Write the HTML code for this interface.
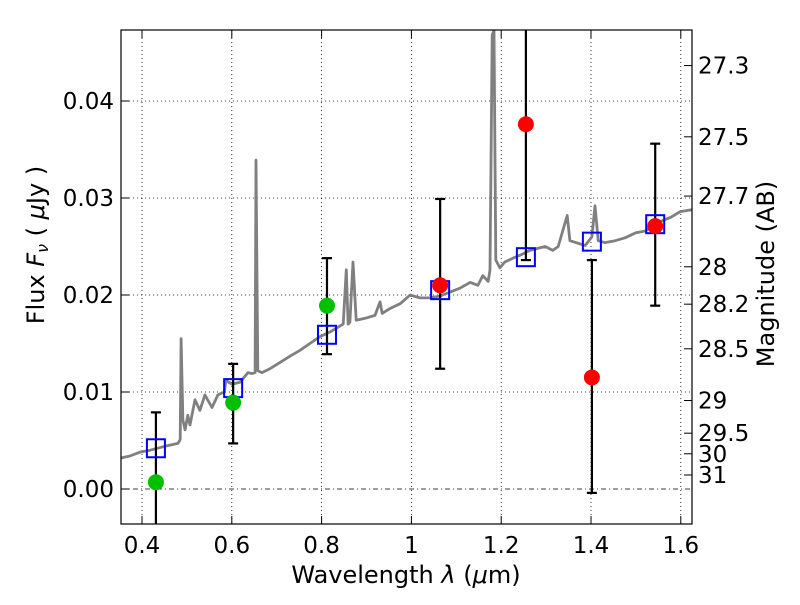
<!DOCTYPE html>
<html><head><meta charset="utf-8"><style>
body{margin:0;background:#fff;font-family:"Liberation Sans","DejaVu Sans",sans-serif}
svg text{font-family:"DejaVu Sans","Liberation Sans",sans-serif}
</style></head><body>
<svg id="c" width="800" height="600" xmlns="http://www.w3.org/2000/svg">
<rect width="800" height="600" fill="#fff"/>
<defs><clipPath id="clip"><rect x="121" y="30" width="571" height="494"/></clipPath></defs>
<g id="grid"></g>
<line x1="121" x2="692" y1="489" y2="489" stroke="#000" stroke-width="0.8" stroke-dasharray="5,3,1,3"/>
<g id="plot" clip-path="url(#clip)"></g>
<rect x="121" y="30" width="571" height="494" fill="none" stroke="#000" stroke-width="1.2"/>
<g id="axes"></g>
<text x="406" y="583" font-size="24" text-anchor="middle">Wavelength  <tspan font-style="italic">λ</tspan> (<tspan font-style="italic">μ</tspan>m)</text>
<text transform="translate(44,245) rotate(-90)" font-size="24" text-anchor="middle">Flux  <tspan font-style="italic">F</tspan><tspan font-style="italic" font-size="16" dy="4">ν</tspan><tspan dy="-4">  (  </tspan><tspan font-style="italic">μ</tspan>Jy )</text>
<text transform="translate(774,274) rotate(-90)" font-size="24" text-anchor="middle">Magnitude (AB)</text>
</svg>
<script>
const specWl=[0.353,0.373,0.396,0.418,0.451,0.480,0.485,0.487,0.491,0.496,0.502,0.507,0.518,0.529,0.540,0.556,0.569,0.583,0.587,0.600,0.618,0.636,0.645,0.652,0.654,0.658,0.667,0.685,0.730,0.752,0.774,0.796,0.819,0.848,0.855,0.859,0.863,0.870,0.877,0.897,0.919,0.930,0.935,0.952,0.975,0.997,1.019,1.041,1.064,1.086,1.108,1.131,1.148,1.159,1.171,1.175,1.180,1.184,1.188,1.197,1.208,1.231,1.242,1.264,1.298,1.315,1.327,1.347,1.353,1.387,1.402,1.409,1.416,1.431,1.454,1.476,1.499,1.521,1.555,1.577,1.599,1.626];
const specFlux=[0.0032,0.0034,0.0038,0.0040,0.0044,0.0047,0.0051,0.0155,0.0071,0.0061,0.0076,0.0066,0.0092,0.0081,0.0097,0.0084,0.0097,0.0100,0.0112,0.0108,0.0110,0.0120,0.0119,0.0120,0.0339,0.0122,0.0120,0.0124,0.0137,0.0143,0.0150,0.0157,0.0162,0.0170,0.0226,0.0170,0.0172,0.0234,0.0174,0.0176,0.0179,0.0193,0.0181,0.0186,0.0191,0.0200,0.0197,0.0197,0.0199,0.0203,0.0207,0.0213,0.0210,0.0220,0.0214,0.0226,0.0468,0.0473,0.0236,0.0228,0.0234,0.0239,0.0241,0.0246,0.0250,0.0246,0.0250,0.0282,0.0256,0.0251,0.0260,0.0292,0.0256,0.0254,0.0256,0.0259,0.0264,0.0266,0.0276,0.0280,0.0286,0.0288];
const bandWl=[0.431,0.603,0.812,1.064,1.255,1.402,1.543];
const modelFlux=[0.0042,0.0104,0.0159,0.0205,0.0239,0.0255,0.0273];
const obsFlux=[0.0007,0.0089,0.0189,0.0210,0.0376,0.0115,0.0271];
const errLow=[-0.008,0.0047,0.0139,0.0124,0.0236,-0.0004,0.0189];
const errHigh=[0.0079,0.0129,0.0238,0.0299,0.055,0.0236,0.0356];
const obsColor=['#00c000','#00c000','#00c000','#ff0000','#ff0000','#ff0000','#ff0000'];
const xTicks=[0.4,0.6,0.8,1.0,1.2,1.4,1.6];
const xTickLabels=['0.4','0.6','0.8','1','1.2','1.4','1.6'];
const yTicks=[0,0.01,0.02,0.03,0.04];
const yTickLabels=['0.00','0.01','0.02','0.03','0.04'];
const magTicks=[27.3,27.5,27.7,28,28.2,28.5,29,29.5,30,31];

const X=w=>142+(w-0.4)*449;
const Y=f=>489-f*9700;
const NS='http://www.w3.org/2000/svg';
function mk(parent,tag,attrs,txt){const e=document.createElementNS(NS,tag);for(const k in attrs)e.setAttribute(k,attrs[k]);if(txt!==undefined)e.textContent=txt;parent.appendChild(e);return e;}
const grid=document.getElementById('grid'),plot=document.getElementById('plot'),axes=document.getElementById('axes');
xTicks.forEach((t,i)=>{const x=X(t);
 let g=mk(grid,'line',{x1:x,x2:x,y1:30,y2:524,stroke:'#000','stroke-width':0.8,'stroke-dasharray':'1,3'});
 
 
 mk(axes,'line',{x1:x,x2:x,y1:524,y2:516,stroke:'#000'});
 mk(axes,'line',{x1:x,x2:x,y1:30,y2:38,stroke:'#000'});
 let l=mk(axes,'text',{x:x,y:553,'font-size':23,'text-anchor':'middle'},xTickLabels[i]);
 
 
});
yTicks.forEach((t,i)=>{const y=Y(t);
 if(t!==0){let g=mk(grid,'line',{x1:121,x2:692,y1:y,y2:y,stroke:'#000','stroke-width':0.8,'stroke-dasharray':'1,3'});
 
 }
 mk(axes,'line',{x1:121,x2:129,y1:y,y2:y,stroke:'#000'});
 let l=mk(axes,'text',{x:114,y:y+8,'font-size':23,'text-anchor':'end'},yTickLabels[i]);
 
 
});
magTicks.forEach(m=>{const y=Y(Math.pow(10,(23.9-m)/2.5));
 mk(axes,'line',{x1:684,x2:692,y1:y,y2:y,stroke:'#000'});
 let l=mk(axes,'text',{x:698,y:y+8,'font-size':23},String(m));
 
 
});
let d=specWl.map((w,i)=>(i?'L':'M')+X(w).toFixed(1)+','+Y(specFlux[i]).toFixed(1)).join('');
let sp=mk(plot,'path',{d:d,fill:'none',stroke:'#808080','stroke-width':2.8,'stroke-linejoin':'round'});


bandWl.forEach((w,i)=>{const x=X(w);
 let e=mk(plot,'g',{});
 
 
 mk(e,'line',{x1:x,x2:x,y1:Y(errLow[i]),y2:Y(errHigh[i]),stroke:'#000','stroke-width':2.2});
 mk(e,'line',{x1:x-5,x2:x+5,y1:Y(errLow[i]),y2:Y(errLow[i]),stroke:'#000','stroke-width':2.2});
 mk(e,'line',{x1:x-5,x2:x+5,y1:Y(errHigh[i]),y2:Y(errHigh[i]),stroke:'#000','stroke-width':2.2});
});
bandWl.forEach((w,i)=>{const x=X(w),y=Y(modelFlux[i]);
 let s=mk(plot,'rect',{x:x-9,y:y-9,width:18,height:18,fill:'none',stroke:'#0000ff','stroke-width':2});
 
 
});
bandWl.forEach((w,i)=>{
 let c=mk(plot,'circle',{cx:X(w),cy:Y(obsFlux[i]),r:8,fill:obsColor[i]});
 
 
});
</script>
</body></html>
